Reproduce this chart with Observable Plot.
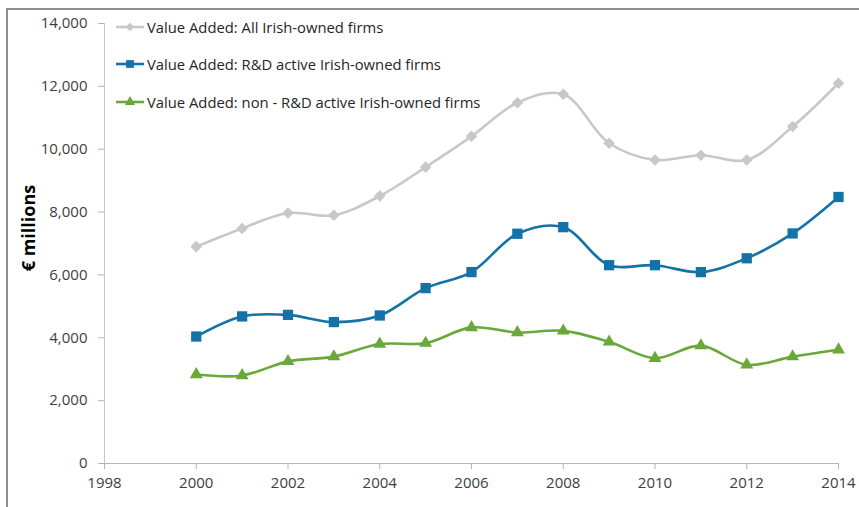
<!DOCTYPE html>
<html>
<head>
<meta charset="utf-8">
<script src="https://cdn.jsdelivr.net/npm/d3@7"></script>
<script src="https://cdn.jsdelivr.net/npm/@observablehq/plot@0.6"></script>
<style>
  html, body { margin: 0; padding: 0; background: #fff; }
  #wrap { position: relative; width: 859px; height: 507px; overflow: hidden; font-family: "Open Sans", sans-serif; }
  #frame { position: absolute; left: 6px; top: 8px; width: 900px; height: 600px; border-top: 2px solid #8f8f8f; border-left: 2px solid #8f8f8f; box-sizing: border-box; pointer-events: none; }
  #chart { position: absolute; left: 0; top: 0; }
  #legend { position: absolute; left: 116px; top: 8px; font-size: 14.8px; color: #262626; }
  .item { display: flex; align-items: center; height: 37.5px; }
  .item svg { margin-right: 3px; }
  #ylabel { position: absolute; left: 28px; top: 228px; transform: translate(-50%, -50%) rotate(-90deg); font-weight: bold; font-size: 18px; color: #000; white-space: nowrap; }
</style>
</head>
<body>
<div id="wrap">
  <div id="chart"></div>
  <div id="frame"></div>
  <div id="ylabel">€ millions</div>
  <div id="legend"></div>
</div>
<script>
const years = [2000, 2001, 2002, 2003, 2004, 2005, 2006, 2007, 2008, 2009, 2010, 2011, 2012, 2013, 2014];
const allIrish = [6900, 7480, 7970, 7900, 8510, 9430, 10410, 11480, 11750, 10190, 9660, 9810, 9660, 10720, 12100];
const rdActive = [4040, 4680, 4730, 4500, 4710, 5580, 6090, 7310, 7520, 6310, 6310, 6090, 6530, 7320, 8480];
const nonRd = [2830, 2800, 3250, 3400, 3800, 3830, 4330, 4170, 4220, 3870, 3350, 3750, 3140, 3400, 3620];
const seriesNames = [
  "Value Added: All Irish-owned firms",
  "Value Added: R&D active Irish-owned firms",
  "Value Added: non - R&D active Irish-owned firms"
];
const seriesValues = [allIrish, rdActive, nonRd];
const colors = ["#c8c8cb", "#1372a8", "#6aa83a"];
const symbols = ["diamond2", "square", "triangle"];
const radii = [5.2, 5.8, 4.8];
const yTicks = [0, 2000, 4000, 6000, 8000, 10000, 12000, 14000];
const xTicks = [1998, 2000, 2002, 2004, 2006, 2008, 2010, 2012, 2014];

const data = seriesNames.flatMap((name, i) =>
  years.map((year, j) => ({ series: name, year, value: seriesValues[i][j], idx: i }))
);

const marks = [
  Plot.ruleY([0], { stroke: "#b5b5b5", strokeWidth: 1 }),
  Plot.ruleX([1998], { stroke: "#c8c8c8", strokeWidth: 1 }),
  Plot.axisX({ ticks: xTicks, tickFormat: d => String(d), tickSize: 6, tickPadding: 8, stroke: "#b5b5b5", fontSize: 15, color: "#404040", label: null }),
  Plot.axisY({ ticks: yTicks, tickFormat: d3.format(","), tickSize: 6, tickPadding: 11, stroke: "#b5b5b5", fontSize: 15, color: "#404040", label: null })
];
seriesNames.forEach((name, i) => {
  const d = data.filter(r => r.idx === i);
  marks.push(Plot.line(d, { x: "year", y: "value", stroke: colors[i], strokeWidth: 2.6, curve: "catmull-rom" }));
  marks.push(Plot.dot(d, { x: "year", y: "value", fill: colors[i], stroke: "none", symbol: symbols[i], r: radii[i] }));
});

const plot = Plot.plot({
  width: 859,
  height: 507,
  marginLeft: 104,
  marginRight: 21,
  marginTop: 23,
  marginBottom: 44,
  style: { fontFamily: "'Open Sans', sans-serif", fontSize: "15px", color: "#404040", background: "transparent" },
  x: { domain: [1998, 2014], label: null },
  y: { domain: [0, 14000], label: null },
  marks
});
document.getElementById("chart").appendChild(plot);

// legend
const legend = document.getElementById("legend");
const symMap = { diamond2: d3.symbolDiamond2, square: d3.symbolSquare, triangle: d3.symbolTriangle };
const legendSizes = [45, 60, 45];
seriesNames.forEach((name, i) => {
  const item = document.createElement("div");
  item.className = "item";
  const svg = d3.create("svg").attr("width", 28).attr("height", 14);
  svg.append("line").attr("x1", 0).attr("x2", 28).attr("y1", 7).attr("y2", 7).attr("stroke", colors[i]).attr("stroke-width", 2.6);
  svg.append("path").attr("transform", "translate(14,7)").attr("d", d3.symbol(symMap[symbols[i]], legendSizes[i])()).attr("fill", colors[i]);
  item.appendChild(svg.node());
  const span = document.createElement("span");
  span.textContent = name;
  item.appendChild(span);
  legend.appendChild(item);
});
</script>
</body>
</html>
